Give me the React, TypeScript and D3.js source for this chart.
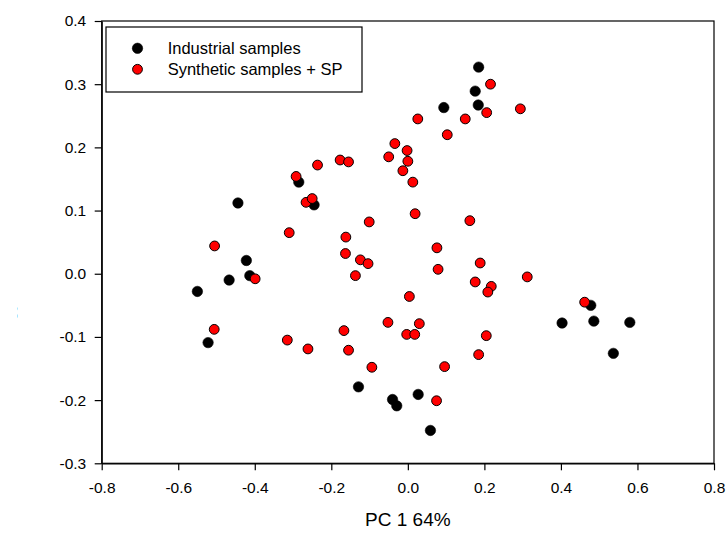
import React, { useEffect, useRef } from 'react';
import * as d3 from 'd3';

// Industrial samples (black)
const industrialX = [0.185, 0.176, 0.184, 0.094, -0.285, -0.245, -0.444, -0.422, -0.413, -0.467, -0.550, -0.522, -0.129, -0.040, -0.029, 0.027, 0.059, 0.403, 0.478, 0.486, 0.580, 0.537];
const industrialY = [0.327, 0.289, 0.267, 0.263, 0.145, 0.109, 0.112, 0.021, -0.003, -0.010, -0.028, -0.109, -0.179, -0.199, -0.209, -0.191, -0.248, -0.078, -0.050, -0.075, -0.077, -0.126];

// Synthetic samples + SP (red)
const syntheticX = [0.216, 0.206, 0.294, 0.026, 0.150, 0.103, -0.034, -0.002, -0.050, 0.000, -0.013, 0.013, -0.177, -0.155, -0.236, -0.292, -0.266, -0.250, 0.019, 0.162, -0.101, -0.310, -0.505, -0.162, 0.076, -0.163, -0.124, -0.104, 0.189, 0.079, -0.137, -0.399, 0.312, 0.176, 0.218, 0.209, 0.004, 0.462, -0.506, -0.167, -0.052, 0.030, -0.315, -0.003, 0.018, 0.205, -0.261, -0.155, 0.185, -0.094, 0.096, 0.075];
const syntheticY = [0.300, 0.255, 0.261, 0.245, 0.245, 0.220, 0.206, 0.195, 0.185, 0.178, 0.163, 0.145, 0.180, 0.177, 0.172, 0.154, 0.113, 0.119, 0.095, 0.084, 0.082, 0.065, 0.044, 0.058, 0.041, 0.032, 0.022, 0.016, 0.017, 0.007, -0.003, -0.008, -0.005, -0.013, -0.020, -0.029, -0.036, -0.045, -0.088, -0.090, -0.077, -0.079, -0.105, -0.096, -0.096, -0.098, -0.119, -0.121, -0.128, -0.148, -0.147, -0.201];

const xTicks = [-0.8, -0.6, -0.4, -0.2, 0.0, 0.2, 0.4, 0.6, 0.8];
const yTicks = [-0.3, -0.2, -0.1, 0.0, 0.1, 0.2, 0.3, 0.4];
const seriesNames = ['Industrial samples', 'Synthetic samples + SP'];
const seriesColors = ['#000000', '#ff0000'];
const xTitle = 'PC 1 64%';
const yTitle = 'PC 2 16%';

const W = 726;
const H = 533;
const FONT = 'Arial, "Liberation Sans", sans-serif';

const App = () => {
  const svgRef = useRef<SVGSVGElement>(null);

  useEffect(() => {
    const svg = d3.select(svgRef.current);
    svg.selectAll('*').remove();

    const left = 101.7, right = 714, top = 21, bottom = 463.3;
    const x = d3.scaleLinear().domain([-0.8, 0.8]).range([left, right]);
    const y = d3.scaleLinear().domain([-0.3, 0.4]).range([bottom, top]);

    // frame
    svg.append('rect')
      .attr('x', left).attr('y', top)
      .attr('width', right - left).attr('height', bottom - top)
      .attr('fill', 'none').attr('stroke', '#000').attr('stroke-width', 1.2);

    const fmt = (d: number) => d.toFixed(1);

    const yAxis = svg.append('g')
      .attr('transform', `translate(${left},0)`)
      .call(d3.axisLeft(y).tickValues(yTicks).tickFormat(fmt as any).tickSize(7).tickSizeOuter(0).tickPadding(8.5));
    const xAxis = svg.append('g')
      .attr('transform', `translate(0,${bottom})`)
      .call(d3.axisBottom(x).tickValues(xTicks).tickFormat(fmt as any).tickSize(7).tickSizeOuter(0).tickPadding(11.5));

    [yAxis, xAxis].forEach(ax => {
      ax.select('.domain').attr('stroke', '#000').attr('stroke-width', 1.2);
      ax.selectAll('line').attr('stroke', '#000').attr('stroke-width', 1.2);
      ax.selectAll('text')
        .attr('fill', '#000')
        .style('font-family', FONT)
        .style('font-size', '15.5px');
    });

    // points
    const drawSeries = (xs: number[], ys: number[], i: number) => {
      svg.append('g').selectAll('circle')
        .data(xs.map((v, k) => [v, ys[k]]))
        .enter()
        .append('circle')
        .attr('cx', d => x(d[0]))
        .attr('cy', d => y(d[1]))
        .attr('r', i === 0 ? 5.2 : 4.9)
        .attr('fill', seriesColors[i])
        .attr('stroke', '#000')
        .attr('stroke-width', i === 0 ? 0.6 : 1);
    };
    drawSeries(industrialX, industrialY, 0);
    drawSeries(syntheticX, syntheticY, 1);

    // legend
    const lg = svg.append('g');
    lg.append('rect')
      .attr('x', 106).attr('y', 27)
      .attr('width', 256).attr('height', 65)
      .attr('fill', '#fff').attr('stroke', '#000').attr('stroke-width', 1.2);
    seriesNames.forEach((name, i) => {
      const cy = 48.3 + i * 21;
      lg.append('circle')
        .attr('cx', 137.5).attr('cy', cy)
        .attr('r', i === 0 ? 5.2 : 4.9)
        .attr('fill', seriesColors[i])
        .attr('stroke', '#000')
        .attr('stroke-width', i === 0 ? 0.6 : 1);
      lg.append('text')
        .attr('x', 167.7).attr('y', cy + 6)
        .style('font-family', FONT)
        .style('font-size', '16.5px')
        .text(name);
    });

    // x title
    svg.append('text')
      .attr('x', (left + right) / 2)
      .attr('y', 526)
      .attr('text-anchor', 'middle')
      .style('font-family', FONT)
      .style('font-size', '19px')
      .text(xTitle);

    // y title (cut off at the left edge in the original)
    svg.append('clipPath').attr('id', 'yclip')
      .append('rect').attr('x', 11.5).attr('y', 0).attr('width', 10).attr('height', H);
    svg.append('text')
      .attr('clip-path', 'url(#yclip)')
      .attr('transform', `translate(17,329) rotate(-90)`)
      .attr('text-anchor', 'middle')
      .style('font-family', FONT)
      .style('font-size', '19px')
      .text(yTitle);
  }, []);

  return (
    <svg ref={svgRef} width={W} height={H}
      style={{ position: 'absolute', left: 0, top: 0, background: '#fff' }} />
  );
};

export default App;
